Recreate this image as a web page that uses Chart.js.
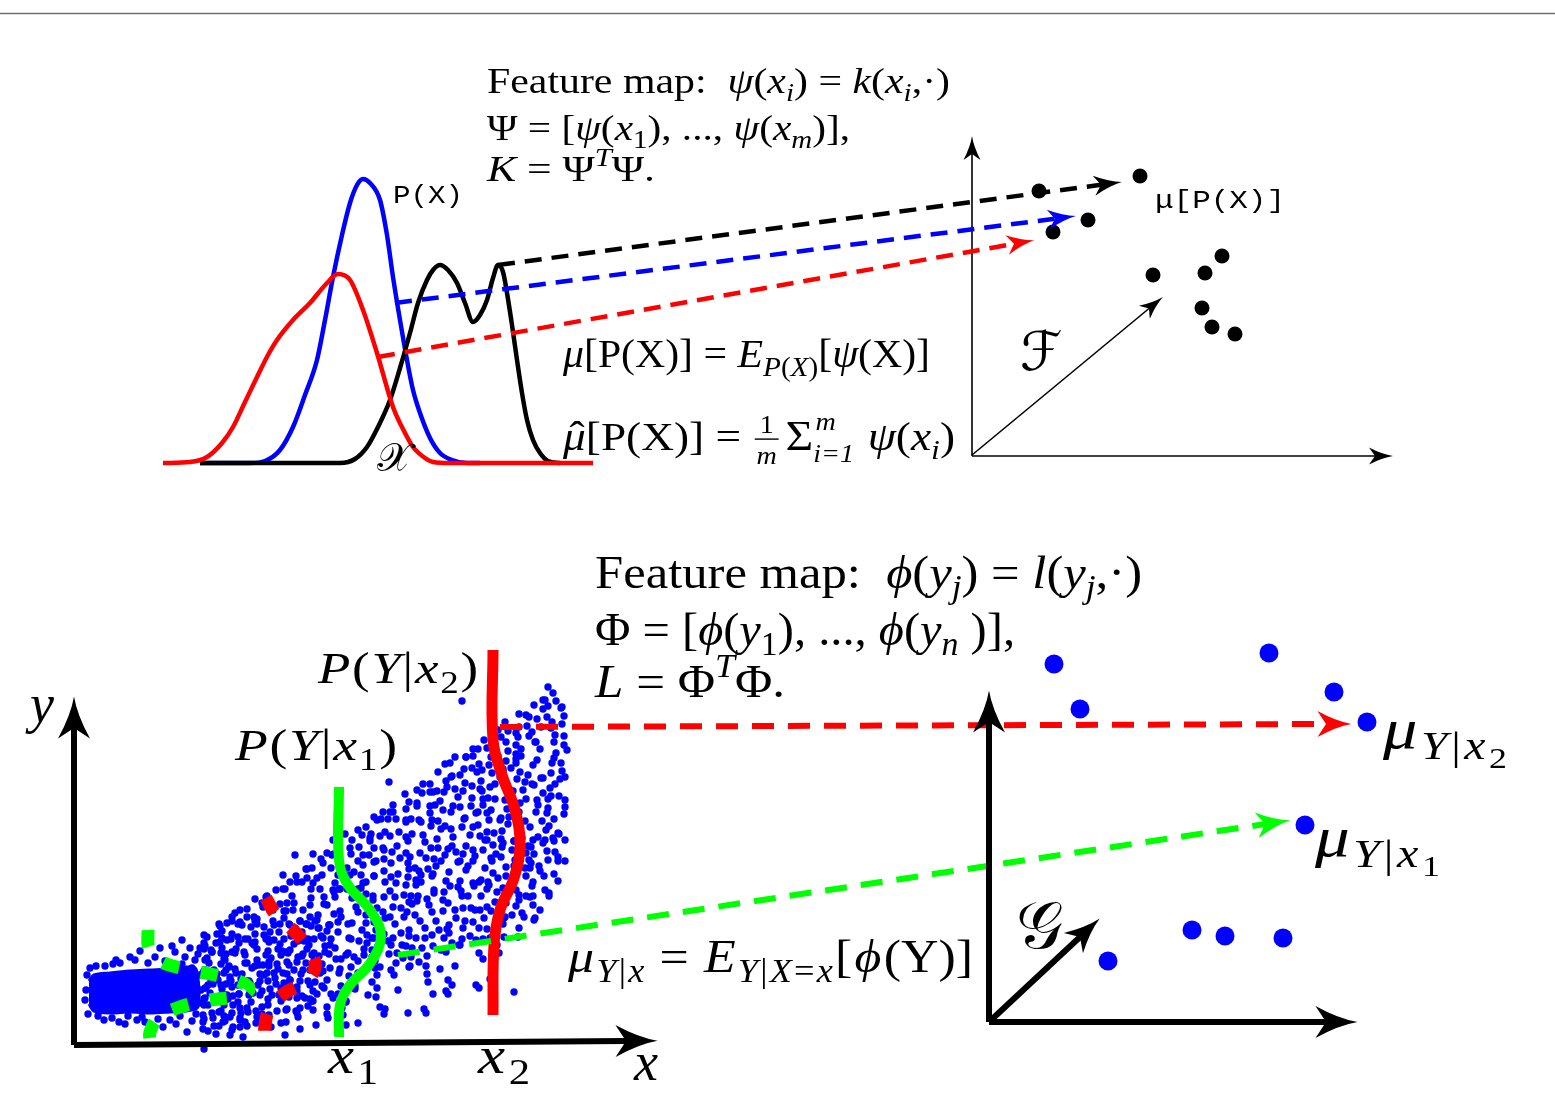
<!DOCTYPE html>
<html><head><meta charset="utf-8">
<script src="https://cdn.jsdelivr.net/npm/chart.js@4.4.1/dist/chart.umd.min.js"></script>
<style>html,body{margin:0;padding:0;background:#fff}#wrap{width:1555px;height:1105px}</style>
</head><body><div id="wrap"><canvas id="c" width="1555" height="1105"></canvas></div>
<script>
// ---------- data (diagram coordinates) ----------
const headerRule = [[0,13.5],[1555,13.5]];
const densRed = [[163,463],[190,462],[207,457],[222,443],[233,427],[245,402],[257,377],[268,355],[277,340],[293,320],[310,303],[327,283],[338,274],[350,280],[363,310],[377,353],[393,407],[405,433],[413,447],[425,458],[433,462],[450,463],[593,463]];
const densBlue = [[200,463],[250,463],[265,461],[280,450],[293,427],[305,395],[317,360],[325,320],[333,277],[342,235],[350,203],[357,185],[363,179],[370,183],[380,200],[387,235],[393,277],[400,320],[407,360],[413,390],[420,413],[430,438],[440,453],[452,460],[467,463],[480,463]];
const densBlack = [[200,463],[340,463],[355,459],[367,447],[378,427],[390,400],[400,368],[410,333],[418,303],[427,280],[433,270],[440,265],[448,270],[457,283],[465,303],[473,322],[480,315],[487,300],[493,278],[498,265],[503,272],[507,293],[512,325],[517,360],[522,393],[527,420],[533,440],[540,453],[548,461],[560,463]];
const mapBlack = [[498,265],[1101,184.8]];
const mapBlue = [[395,303],[1055,218.7]];
const mapRed = [[378,357],[1014,243.8]];
const fAxisV = [[972,456],[972,154]];
const fAxisH = [[972,456],[1375,456]];
const fAxisD = [[972,455],[1149,308.5]];
const fDots = [[1039,191],[1140,176],[1088,220],[1053,232],[1153,275],[1205,273],[1222,256],[1202,308],[1212,327],[1235,334]];
const condGreen = [[339,787],[339,860],[348,885],[370,910],[381,935],[371,962],[350,985],[340,1005],[339,1037]];
const condRed = [[493,650],[493,740],[502,775],[515,810],[520,845],[514,878],[500,910],[494,945],[493,1015]];
const condGreenDash = [[148,930],[149,948],[160,961],[185,969],[215,975],[243,983],[249,990],[240,996],[210,1000],[180,1007],[158,1018],[150,1032],[150,1042]];
const condRedDash = [[266,898],[276,915],[298,935],[312,955],[315,968],[305,982],[285,993],[270,1008],[265,1025],[265,1042]];
const embRed = [[500,727],[1326,724]];
const embGreen = [[398,955],[1265,824]];
const axLeftV = [[74,1045],[74,728]];
const axLeftH = [[74,1045],[626,1041]];
const axRightV = [[989,1022],[989,722]];
const axRightH = [[989,1022],[1326,1022]];
const axRightD = [[989,1022],[1080,937]];
const gDots = [[1054,664],[1080,709],[1269,653],[1334,692],[1367,722],[1305,825],[1192,930],[1225,936],[1283,938],[1108,961]];
// sample cloud (x, y): dense core outline + individual samples
const cloudCore = [[89,981],[94,975],[110,973],[130,971],[150,970],[170,969],[186,967],[196,969],[198,1007],[186,1011],[170,1012],[150,1013],[130,1012],[110,1013],[94,1011],[89,1004]];
const cloudCoreEdge = [[90,968],[98,1016],[105,966],[112,1018],[120,963],[128,1016],[135,960],[142,1017],[148,963],[155,957],[158,1019],[165,961],[170,1020],[175,952],[180,1016],[185,957],[190,948],[192,1021],[198,954],[104,1020],[125,1024],[163,1027],[130,957],[187,1032],[145,1022],[88,1014],[96,966],[116,960],[176,1024],[200,948],[140,951],[160,948],[172,946],[182,940],[150,1028],[86,990],[85,1000],[87,975],[119,1022],[137,1020],[113,964],[182,964],[195,960],[200,975],[201,990],[199,1003],[196,1014],[192,968]];
const cloudUpper = [[548,687],[545,700],[553,693],[543,700],[556,701],[462,701],[534,705],[548,706],[561,708],[526,715],[543,709],[562,707],[519,714],[529,717],[537,719],[547,717],[564,716],
[505,722],[519,727],[527,726],[541,727],[552,722],[562,724],[498,730],[508,731],[516,733],[532,732],[551,728],[564,736],[484,740],[501,737],[518,737],[529,736],[536,742],[555,735],
[473,749],[487,748],[506,742],[516,745],[535,742],[554,742],[564,745],[466,757],[473,756],[478,749],[491,757],[508,751],[516,754],[521,749],[540,749],[556,753],[567,750],
[455,757],[466,757],[479,764],[498,756],[506,761],[516,759],[521,756],[537,760],[554,758],[561,763],[445,764],[450,763],[464,769],[472,768],[489,765],[503,769],[511,768],[516,763],[533,765],[552,763],
[438,772],[452,776],[460,775],[477,772],[482,770],[492,773],[503,771],[520,772],[528,775],[541,778],[551,773],[562,771],[423,784],[430,784],[446,781],[451,777],[465,783],[481,781],[500,777],[517,779],[525,782],[532,784],[543,778],[560,779],[565,777],
[389,782],[417,790],[430,792],[437,791],[447,787],[455,789],[472,786],[480,789],[490,787],[495,784],[509,790],[523,790],[534,785],[550,788],[555,784],
[405,794],[422,793],[433,792],[444,792],[458,797],[463,791],[482,791],[495,799],[508,799],[513,791],[526,799],[543,793],[551,796],[559,796],
[393,805],[409,802],[417,803],[430,806],[440,801],[453,806],[472,798],[483,799],[488,798],[505,800],[512,805],[520,803],[537,800],[548,799],[565,800],
[383,812],[390,812],[406,809],[417,806],[430,813],[435,805],[443,810],[460,807],[471,806],[478,812],[483,805],[491,810],[507,809],[512,805],[519,812],[538,805],[548,808],[565,807],
[374,817],[381,819],[388,819],[393,812],[406,820],[419,820],[432,820],[451,812],[465,818],[476,813],[487,813],[501,818],[509,817],[517,817],[536,812],[547,813],[564,814],
[366,827],[377,820],[396,819],[406,822],[411,819],[421,822],[438,821],[445,826],[464,819],[478,825],[489,820],[500,820],[508,824],[525,821],[542,821],[549,826],[554,819],
[358,830],[371,834],[385,832],[399,832],[412,834],[431,826],[441,829],[451,829],[462,827],[473,827],[487,832],[494,833],[502,831],[519,828],[530,827],[546,830],[559,834],
[345,834],[362,835],[370,838],[380,836],[390,836],[406,837],[423,835],[437,839],[453,837],[470,835],[480,836],[487,840],[501,839],[514,841],[522,838],[538,837],[545,840],[553,838],[558,833],[565,840],
[333,840],[352,840],[359,847],[370,841],[383,848],[397,846],[408,841],[425,842],[438,848],[452,846],[466,846],[485,840],[493,845],[503,843],[514,841],[528,846],[533,840],[543,843],[554,841],
[327,853],[334,854],[339,847],[350,848],[363,855],[374,848],[384,850],[392,852],[406,853],[420,853],[431,848],[448,849],[456,852],[463,854],[473,850],[483,850],[502,847],[512,850],[526,853],[531,847],[547,851],[555,852],
[313,854],[321,859],[332,855],[351,854],[358,861],[369,855],[376,861],[384,859],[400,858],[410,857],[426,858],[434,859],[445,855],[458,862],[475,856],[491,858],[496,854],[501,857],[515,860],[529,860],[534,854],[548,860],[558,857],[565,861],
[306,869],[323,863],[340,863],[347,868],[363,865],[374,862],[391,863],[408,863],[415,868],[428,869],[436,866],[441,861],[460,861],[468,866],[473,861],[492,861],[506,867],[514,866],[531,863],[539,866],[558,861],
[296,876],[307,869],[312,868],[331,868],[338,875],[354,872],[361,875],[374,876],[384,871],[398,874],[409,869],[419,871],[433,874],[449,872],[466,870],[485,868],[493,873],[506,876],[525,868],[530,868],[540,871],[554,874],
[283,875],[290,882],[297,882],[307,878],[317,878],[322,875],[335,883],[345,878],[350,875],[363,883],[374,876],[391,877],[408,877],[416,880],[421,875],[432,876],[446,881],[460,881],[473,883],[481,880],[488,882],[498,878],[515,877],[526,876],[533,882],[544,876],[558,881],
[276,890],[283,889],[302,882],[313,883],[320,889],[333,890],[340,889],[347,889],[361,888],[366,882],[385,882],[396,883],[406,885],[416,885],[421,882],[434,890],[450,886],[458,887],[474,886],[479,882],[489,885],[503,888],[516,890],[532,886],[545,890],
[266,897],[285,889],[292,896],[311,889],[324,897],[334,892],[339,889],[358,889],[366,894],[373,896],[390,891],[404,895],[411,896],[418,896],[434,893],[444,892],[461,891],[468,896],[487,889],[497,892],[505,894],[519,895],[526,896],[533,896],[549,893],
[255,899],[262,903],[267,896],[280,904],[287,903],[294,903],[311,898],[324,904],[335,897],[352,898],[357,896],[373,900],[384,897],[395,897],[409,902],[417,901],[427,899],[443,900],[462,896],[481,896],[495,902],[503,901],[519,900],[530,897],[549,896],
[247,909],[263,907],[273,906],[286,911],[293,910],[310,905],[327,905],[340,911],[356,907],[369,911],[377,908],[393,907],[401,908],[412,904],[429,905],[448,903],[455,910],[463,908],[471,908],[487,907],[506,903],[516,906],[533,905],[540,910]];
const cloudLower = [[235,913],[240,910],[247,917],[254,917],[273,910],[284,911],[303,910],[310,917],[318,915],[334,914],[341,917],[358,912],[366,915],[383,912],[390,917],[407,912],[415,915],[432,912],[443,911],[456,918],[475,910],[480,910],[491,911],[504,918],[512,915],[522,913],[535,918],
[227,923],[232,917],[240,922],[257,919],[273,921],[284,918],[300,921],[307,924],[317,920],[330,925],[338,922],[352,923],[366,923],[374,922],[385,918],[404,917],[420,921],[436,921],[449,925],[465,921],[473,922],[484,918],[500,921],[505,917],[524,917],[534,920],
[219,924],[238,924],[257,924],[270,932],[289,924],[302,932],[318,928],[329,925],[348,924],[362,930],[376,930],[395,924],[409,930],[425,928],[439,930],[447,929],[463,928],[479,928],[487,929],[498,925],[503,924],[519,928],
[207,937],[217,934],[222,931],[232,934],[245,939],[255,934],[268,939],[279,932],[295,935],[308,939],[327,931],[338,932],[351,939],[367,935],[374,938],[384,934],[401,933],[409,936],[416,938],[432,935],[449,933],[462,939],[470,936],[483,939],[490,938],[504,937],[518,937],
[204,943],[220,942],[231,939],[239,943],[255,942],[266,939],[280,944],[294,944],[304,941],[323,938],[330,945],[349,938],[359,941],[367,943],[372,938],[378,946],[388,941],[393,938],[406,946],[425,938],[444,938],[452,943],[459,945],[476,940],[497,945],
[205,946],[212,952],[222,948],[235,953],[254,945],[268,951],[282,951],[290,950],[309,945],[314,953],[325,946],[335,948],[348,953],[364,949],[372,950],[391,945],[397,953],[402,945],[412,948],[422,948],[433,946],[441,950],[460,945],[499,953],
[207,958],[212,952],[225,960],[244,952],[257,960],[271,958],[281,955],[286,952],[302,956],[312,955],[329,954],[336,959],[346,955],[354,957],[364,955],[372,957],[389,954],[403,958],[411,957],[427,956],[446,952],[479,953],
[205,960],[224,959],[229,967],[245,963],[259,965],[269,962],[277,964],[287,962],[297,962],[314,961],[322,964],[341,959],[358,961],[375,961],[380,967],[396,963],[409,967],[419,962],[426,966],[483,959],
[204,971],[217,974],[224,973],[229,966],[236,973],[255,966],[260,974],[267,973],[274,973],[287,974],[303,970],[313,969],[330,968],[340,969],[351,967],[358,973],[375,968],[391,970],[410,966],[440,969],[455,966],
[203,973],[211,978],[218,980],[231,981],[242,974],[247,981],[264,975],[283,973],[290,980],[301,974],[320,973],[339,973],[349,976],[360,974],[377,975],[394,975],[427,974],[448,980],[490,979],
[206,988],[211,980],[230,980],[238,985],[249,981],[260,981],[276,984],[290,986],[297,987],[308,981],[322,986],[327,980],[341,986],[355,986],[372,982],[377,988],[428,982],[452,985],[476,985],
[205,988],[222,989],[227,995],[232,987],[239,994],[253,993],[270,989],[281,988],[297,991],[313,991],[324,988],[331,994],[338,994],[355,989],[368,995],[398,990],[446,991],[479,988],
[204,999],[214,997],[225,995],[238,1002],[249,995],[260,995],[268,999],[279,995],[289,997],[305,998],[312,1001],[317,994],[333,998],[346,1002],[376,997],[433,994],[448,994],
[208,1005],[224,1005],[240,1008],[251,1002],[262,1007],[281,1001],[300,1008],[308,1006],[313,1001],[327,1007],[346,1001],[385,1009],[424,1009],[380,1007],[426,1013],[514,992],
[203,1015],[219,1012],[224,1016],[232,1013],[248,1012],[262,1014],[269,1015],[286,1010],[296,1011],[313,1010],[327,1014],[342,1008],[384,1014],[408,1013],
[203,1022],[213,1018],[223,1022],[230,1017],[240,1018],[257,1017],[268,1016],[281,1023],[298,1017],[328,1018],[343,1015],[358,1023],
[203,1029],[219,1026],[232,1030],[240,1027],[245,1022],[256,1023],[267,1023],[286,1022],[316,1025],[346,1025],
[208,1031],[216,1034],[230,1035],[243,1037],[285,1035],[300,1029],[204,1049],[295,855]];
const cloudDense = [[220,926],[232,921],[242,925],[251,927],[255,921],[264,927],[274,925],[280,924],[290,925],[295,928],[300,921],[306,924],[311,926],[315,921],[319,928],[329,925],
[204,935],[216,943],[222,938],[227,940],[238,937],[248,939],[252,943],[264,935],[269,942],[274,940],[284,939],[291,936],[298,941],[304,938],[314,939],[321,936],[331,939],
[204,949],[211,950],[221,953],[226,954],[232,952],[236,949],[245,955],[257,949],[266,955],[278,949],[288,953],[298,957],[303,954],[307,949],[319,956],[325,952],
[205,970],[209,963],[214,970],[221,964],[226,970],[235,969],[247,963],[252,968],[263,965],[269,966],[278,969],[289,965],[294,970],[306,963],[310,970],[315,968],[323,971],
[208,985],[213,984],[221,985],[226,984],[230,977],[241,979],[250,983],[258,985],[268,981],[275,978],[284,983],[290,980],[300,981],[310,985],[315,982],
[205,998],[210,993],[215,998],[220,996],[228,999],[233,996],[239,994],[250,993],[262,991],[272,995],[283,993],[290,992],[297,998],[302,996],[310,999],
[204,1005],[212,1013],[221,1011],[233,1005],[241,1013],[247,1008],[256,1011],[268,1005],[277,1011],[287,1009],[297,1013],
[204,1019],[214,1026],[225,1021],[233,1027],[240,1020],[247,1026],[259,1019],[271,1027]];

// ---------- text content ----------
const sub = (t,f='i',s=0.7) => [t,f,s,0.22];
const sup = (t,f='i') => [t,f,0.7,-0.42];
const subsub = (t,f='i') => [t,f,0.6,0.4];
const texts = {
  t1: [['Feature map:  '],['ψ','i'],['('],['x','i'],sub('i'),[')'],[' = '],['k','i'],['('],['x','i'],sub('i'),[',·)']],
  t2: [['Ψ = ['],['ψ','i'],['('],['x','i'],sub('1','r'),['), ..., '],['ψ','i'],['('],['x','i'],sub('m'),[')],']],
  t3: [['K','i'],[' = Ψ'],sup('T'),['Ψ.']],
  m1: [['μ','i'],['[P(X)] = '],['E','i'],sub('P'),sub('(','r'),sub('X'),sub(')','r'),['['],['ψ','i'],['(X)]']],
  m2: [['μ','i'],['ˆ','r',1,-0.02,'acc'],['[P(X)] = '],{frac:['1','m']},['Σ','r',1.05,0],{ss:['m','i=1']},[' '],['ψ','i'],['('],['x','i'],sub('i'),[')']],
  px: [['P(X)','m']],
  mupx: [['μ[P(X)]','m']],
  scrX: [['𝒳','c']],
  scrF: [['ℱ','c']],
  b1: [['Feature map:  '],['ϕ','i'],['('],['y','i'],sub('j'),[')'],[' = '],['l','i'],['('],['y','i'],sub('j'),[',·)']],
  b2: [['Φ = ['],['ϕ','i'],['('],['y','i'],sub('1','r'),['), ..., '],['ϕ','i'],['('],['y','i'],sub('n'),[' )],']],
  b3: [['L','i'],[' = Φ'],sup('T'),['Φ.']],
  py2: [['P','i'],['('],['Y','i'],['|'],['x','i'],sub('2','r'),[')']],
  py1: [['P','i'],['('],['Y','i'],['|'],['x','i'],sub('1','r'),[')']],
  ylab: [['y','i']],
  xlab: [['x','i']],
  x1: [['x','i'],sub('1','r')],
  x2: [['x','i'],sub('2','r')],
  muy2: [['μ','i',1.15],sub('Y','i',0.8),sub('|','r',0.8),sub('x','i',0.8),subsub('2','r')],
  muy1: [['μ','i',1.15],sub('Y','i',0.8),sub('|','r',0.8),sub('x','i',0.8),subsub('1','r')],
  mux: [['μ','i'],sub('Y'),sub('|','r'),sub('x'),[' = '],['E','i'],sub('Y'),sub('|','r'),sub('X'),sub('=','r'),sub('x'),['['],['ϕ','i'],['(Y)]']],
  scrG: [['𝒢','c']]
};
// ---------- layout of the text (position, size, extra spacing, fitted width) ----------
const textLayout = [
  {k:'t1',x:487,y:93,size:35,w:463},
  {k:'t2',x:487,y:140,size:35,w:363},
  {k:'t3',x:487,y:181,size:35,w:168},
  {k:'m1',x:563,y:367,size:40,w:367},
  {k:'m2',x:563,y:450,size:40,w:392},
  {k:'px',x:393,y:203,size:26,w:70},
  {k:'mupx',x:1155,y:208,size:26,w:130},
  {k:'scrX',x:377,y:471,size:40},
  {k:'scrF',x:1020,y:370,size:54},
  {k:'b1',x:595,y:588,size:47,w:547},
  {k:'b2',x:595,y:645,size:47,w:420},
  {k:'b3',x:595,y:697,size:47,w:190},
  {k:'py2',x:318,y:683,size:45,sp:1.5,w:160},
  {k:'py1',x:235,y:760,size:45,sp:1.5,w:162},
  {k:'ylab',x:30,y:722,size:54},
  {k:'xlab',x:634,y:1080,size:54},
  {k:'x1',x:328,y:1073,size:52,sp:3,w:50},
  {k:'x2',x:478,y:1073,size:52,sp:3,w:52},
  {k:'muy2',x:1383,y:748,size:50,sp:3,w:124},
  {k:'muy1',x:1315,y:856,size:50,sp:3,w:125},
  {k:'mux',x:568,y:972,size:47,sp:2,w:405},
  {k:'scrG',x:1016,y:948,size:66}
];

// ---------- helpers ----------
const P = a => a.map(([x,y]) => ({x,y}));
function curve(pts, color, width, extra){ return Object.assign({data:P(pts), showLine:true, borderColor:color, backgroundColor:color, borderWidth:width, pointRadius:0, tension:0.4, fill:false, clip:false, borderCapStyle:'butt', borderJoinStyle:'round'}, extra||{}); }
function fontFor(f, px){
  if(f==='i') return 'italic '+px+'px "Liberation Serif", serif';
  if(f==='m') return px+'px "Liberation Mono", monospace';
  if(f==='c') return px+'px "DejaVu Sans", "Noto Sans", "DejaVu Serif", sans-serif';
  return px+'px "Liberation Serif", serif';
}
function layoutRich(ctx, segs, fs, sp){
  const items=[]; let x=0, lastW=0;
  for(const s of segs){
    if(s.frac){
      const px=fs*0.62;
      ctx.font=fontFor('r',px); const w1=ctx.measureText(s.frac[0]).width;
      ctx.font=fontFor('i',px); const w2=ctx.measureText(s.frac[1]).width;
      const w=Math.max(w1,w2)+fs*0.08;
      items.push({k:'frac',x:x+fs*0.05,w,px,n:s.frac[0],d:s.frac[1],w1,w2});
      x+=w+fs*0.2; continue;
    }
    if(s.ss){
      const px=fs*0.62; ctx.font=fontFor('i',px);
      const wa=ctx.measureText(s.ss[0]).width, wb=ctx.measureText(s.ss[1]).width;
      items.push({k:'ss',x,px,a:s.ss[0],b:s.ss[1]});
      x+=Math.max(wa,wb)+fs*0.05; continue;
    }
    const t=s[0], f=s[1]||'r', sc=s[2]||1, dy=s[3]||0, acc=s[4];
    const px=fs*sc; const font=fontFor(f,px); ctx.font=font;
    const w=ctx.measureText(t).width;
    if(acc){ items.push({k:'t',x:x-lastW/2-w/2+fs*0.06,y:dy*fs,t,font}); continue; }
    if(x>0) x+=sp;
    items.push({k:'t',x,y:dy*fs,t,font}); x+=w; lastW=w;
  }
  return {items,width:x};
}
function drawRich(ctx, L, px, py){
  const fs=L.size; const r=layoutRich(ctx, texts[L.k], fs, L.sp||0);
  const sx = L.w ? L.w/r.width : 1;
  ctx.save(); ctx.translate(px,py); ctx.scale(sx,1);
  ctx.fillStyle='#000'; ctx.textBaseline='alphabetic'; ctx.textAlign='left';
  for(const it of r.items){
    if(it.k==='t'){ ctx.font=it.font; ctx.fillText(it.t,it.x,it.y); }
    else if(it.k==='frac'){
      ctx.font=fontFor('r',it.px); ctx.fillText(it.n,it.x+(it.w-it.w1)/2,-fs*0.42);
      ctx.font=fontFor('i',it.px); ctx.fillText(it.d,it.x+(it.w-it.w2)/2,fs*0.36);
      ctx.fillRect(it.x,-fs*0.29,it.w,Math.max(1.3,fs*0.035));
    } else if(it.k==='ss'){
      ctx.font=fontFor('i',it.px); ctx.fillText(it.a,it.x+fs*0.05,-fs*0.5); ctx.fillText(it.b,it.x,fs*0.3);
    }
  }
  ctx.restore();
}
const arrowPlugin = {
  id:'arrows',
  afterDatasetsDraw(chart){
    const ctx=chart.ctx;
    chart.data.datasets.forEach((ds,i)=>{
      if(!ds.arrow) return;
      const pts=chart.getDatasetMeta(i).data;
      const p=pts[pts.length-1], q=pts[pts.length-2];
      const ang=Math.atan2(p.y-q.y,p.x-q.x);
      const L=ds.arrow[0], Wd=ds.arrow[1], a=0.75*L;
      ctx.save(); ctx.translate(p.x,p.y); ctx.rotate(ang);
      ctx.fillStyle=ds.borderColor;
      ctx.beginPath(); ctx.moveTo(a,0);
      ctx.quadraticCurveTo(a-0.45*L,-Wd*0.1,-0.25*L,-Wd/2);
      ctx.lineTo(0,0);
      ctx.lineTo(-0.25*L,Wd/2);
      ctx.quadraticCurveTo(a-0.45*L,Wd*0.1,a,0);
      ctx.closePath(); ctx.fill(); ctx.restore();
    });
  }
};
const textPlugin = {
  id:'texts',
  afterDraw(chart){
    const ctx=chart.ctx, sx=chart.scales.x, sy=chart.scales.y;
    for(const L of textLayout) drawRich(ctx, L, sx.getPixelForValue(L.x), sy.getPixelForValue(L.y));
  }
};

const RED='#ff0000', BLUE='#0000ff', GREEN='#00ff00', BLACK='#000000';
const dots = (a, r, c, ord) => ({data:P(a),pointRadius:r,backgroundColor:c,borderWidth:0,clip:false,order:ord});
const datasets = [
  curve(headerRule,'#6f6f6f',1.5,{tension:0,order:50}),
  curve(densRed,RED,4.5,{cubicInterpolationMode:'monotone',order:20}),
  curve(densBlack,BLACK,4.5,{cubicInterpolationMode:'monotone',order:21}),
  curve(densBlue,BLUE,4.5,{cubicInterpolationMode:'monotone',order:22}),
  curve(mapBlack,BLACK,4.5,{tension:0,borderDash:[17,10],arrow:[28,20],order:15}),
  curve(mapBlue,BLUE,4.5,{tension:0,borderDash:[17,10],arrow:[28,20],order:15}),
  curve(mapRed,RED,4.5,{tension:0,borderDash:[17,10],arrow:[28,20],order:15}),
  curve(fAxisV,BLACK,1.6,{tension:0,arrow:[24,17],order:30}),
  curve(fAxisH,BLACK,1.6,{tension:0,arrow:[24,17],order:30}),
  curve(fAxisD,BLACK,1.6,{tension:0,arrow:[24,17],order:30}),
  dots(fDots,7.5,BLACK,10),
  {data:P(cloudCore),showLine:true,fill:'shape',tension:0.3,pointRadius:0,borderColor:BLUE,backgroundColor:BLUE,borderWidth:3,clip:false,order:61},
  dots(cloudCoreEdge,3.7,BLUE,60),
  dots(cloudUpper,3.7,BLUE,60),
  dots(cloudLower,3.7,BLUE,60),
  dots(cloudDense,3.7,BLUE,60),
  curve(condGreenDash,GREEN,13,{borderDash:[17,22],order:8}),
  curve(condRedDash,RED,13,{borderDash:[17,22],order:8}),
  curve(condGreen,GREEN,10,{order:9}),
  curve(condRed,RED,11,{order:9}),
  curve(embRed,RED,6,{tension:0,borderDash:[22,14],arrow:[34,26],order:7}),
  curve(embGreen,GREEN,6,{tension:0,borderDash:[22,14],arrow:[34,26],order:7}),
  curve(axLeftV,BLACK,6,{tension:0,arrow:[42,32],order:6}),
  curve(axLeftH,BLACK,6,{tension:0,arrow:[42,32],order:6}),
  curve(axRightV,BLACK,6,{tension:0,arrow:[42,32],order:6}),
  curve(axRightH,BLACK,6,{tension:0,arrow:[42,32],order:6}),
  curve(axRightD,BLACK,6,{tension:0,arrow:[36,28],order:6}),
  dots(gDots,9.5,BLUE,5)
];

new Chart(document.getElementById('c'), {
  type:'scatter',
  data:{datasets},
  options:{
    responsive:false, animation:false, events:[],
    layout:{padding:0, autoPadding:false},
    plugins:{legend:{display:false},tooltip:{enabled:false}},
    scales:{
      x:{type:'linear',min:0,max:1555,display:false},
      y:{type:'linear',min:0,max:1105,reverse:true,display:false}
    }
  },
  plugins:[arrowPlugin,textPlugin]
});
</script></body></html>
